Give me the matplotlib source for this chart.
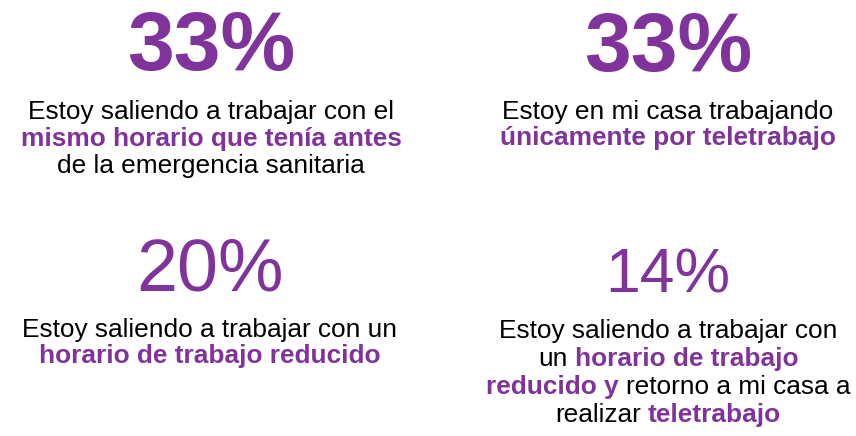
import matplotlib
matplotlib.use('Agg')
import matplotlib.pyplot as plt

PURPLE = '#80339A'

# the four figures and their captions; each caption line is a list of
# (text, highlighted) pieces joined by a space
percentages = ['33%', '33%', '20%', '14%']
percent_bold = [True, True, False, False]

caption_1 = [
    [('Estoy saliendo a trabajar con el', False)],
    [('mismo horario que tenía antes', True)],
    [('de la emergencia sanitaria', False)],
]
caption_2 = [
    [('Estoy en mi casa trabajando', False)],
    [('únicamente por teletrabajo', True)],
]
caption_3 = [
    [('Estoy saliendo a trabajar con un', False)],
    [('horario de trabajo reducido', True)],
]
caption_4 = [
    [('Estoy saliendo a trabajar con', False)],
    [('un', False), ('horario de trabajo', True)],
    [('reducido y', True), ('retorno a mi casa a', False)],
    [('realizar', False), ('teletrabajo', True)],
]
captions = [caption_1, caption_2, caption_3, caption_4]

# layout in pixels (x centre, baseline of the figure, first caption baseline)
centres_x = [211, 668, 210, 668]
percent_base = [70, 71, 290, 292]
percent_size = [60.5, 60.5, 53, 45]
caption_base = [119, 119, 337, 338]
line_step = [27, 26, 26, 28]
caption_size = 18.9

plt.rcParams['font.family'] = ['Liberation Sans', 'DejaVu Sans']

fig = plt.figure(figsize=(8.56, 4.36), dpi=100)
ax = fig.add_axes([0, 0, 1, 1])
ax.set_xlim(0, 856)
ax.set_ylim(436, 0)
ax.axis('off')
fig.canvas.draw()
renderer = fig.canvas.get_renderer()


def text_width(t):
    bb = t.get_window_extent(renderer=renderer)
    return bb.width  # 1 px == 1 data unit here


def draw_line(pieces, xc, y, size):
    probe1 = ax.text(0, 0, 'x x', fontsize=size)
    probe2 = ax.text(0, 0, 'xx', fontsize=size)
    gap = text_width(probe1) - text_width(probe2)
    probe1.remove()
    probe2.remove()

    items = []
    for txt, hl in pieces:
        t = ax.text(0, y, txt, fontsize=size, va='baseline', ha='left',
                    color=PURPLE if hl else 'black',
                    fontweight='bold' if hl else 'normal')
        items.append(t)
    widths = [text_width(t) for t in items]
    total = sum(widths) + gap * (len(items) - 1)
    x = xc - total / 2
    for t, w in zip(items, widths):
        t.set_x(x)
        x += w + gap


for i in range(4):
    ax.text(centres_x[i], percent_base[i], percentages[i],
            fontsize=percent_size[i], color=PURPLE, ha='center', va='baseline',
            fontweight='bold' if percent_bold[i] else 'normal')
    for j, line in enumerate(captions[i]):
        draw_line(line, centres_x[i], caption_base[i] + j * line_step[i], caption_size)

fig.savefig('out.png', dpi=100)
